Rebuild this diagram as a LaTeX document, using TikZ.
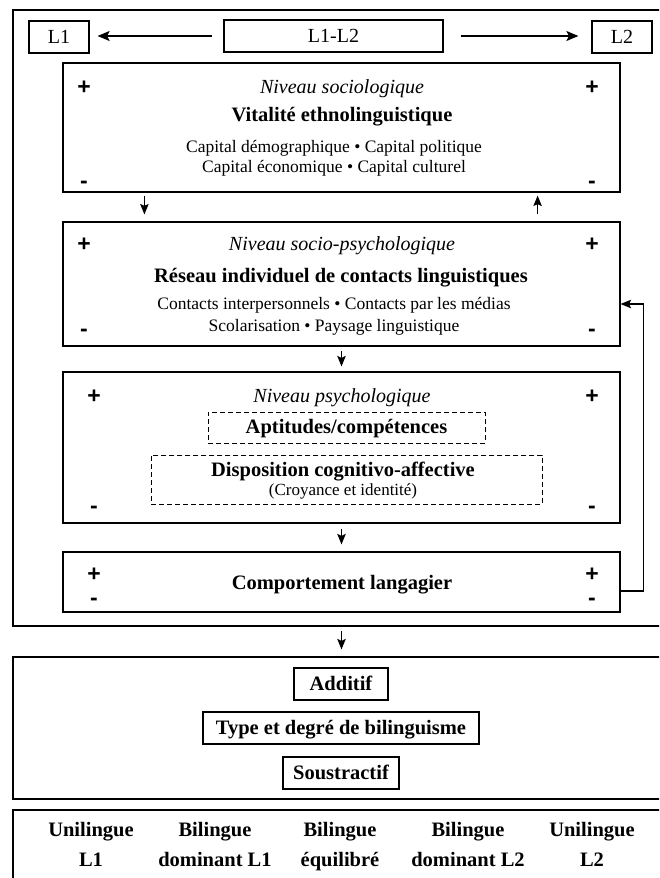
\documentclass[tikz,border=0pt]{standalone}
\usepackage{fontspec}
\setmainfont{Liberation Serif}
\newfontfamily\signfont{Liberation Sans}
\usetikzlibrary{arrows.meta}
\begin{document}
\begin{tikzpicture}[x=1pt,y=-1pt,
  frame/.style={draw, line width=1.2pt, inner sep=0pt},
  dbox/.style={draw, line width=1pt, dash pattern=on 5pt off 3pt, inner sep=0pt},
  bld/.style={inner sep=0pt, text height=14pt, text depth=2pt, font=\fontsize{20.5}{24}\selectfont\bfseries},
  itl/.style={inner sep=0pt, text height=14pt, text depth=2pt, font=\fontsize{20}{24}\selectfont\itshape},
  reg/.style={inner sep=0pt, text height=12pt, text depth=2pt, font=\fontsize{17.5}{21}\selectfont},
  sml/.style={inner sep=0pt, text height=12pt, text depth=2pt, font=\fontsize{17}{20}\selectfont},
  lbl/.style={inner sep=0pt, text height=14pt, text depth=2pt, font=\fontsize{20}{24}\selectfont},
  sign/.style={inner sep=0pt, anchor=base, font=\signfont\bfseries\fontsize{23}{24}\selectfont},
  arr/.style={line width=1.1pt, -{Stealth[length=10.5pt,width=8.5pt,inset=2pt]}},
  larr/.style={line width=1.1pt, -{Stealth[length=12pt,width=10pt,inset=2.5pt]}}
]
\clip (0,0) rectangle (659,878);

% outer containers (open on the right)
\node[frame, minimum width=667pt, minimum height=616pt] (outer1) at (346.5,318) {};
\node[frame, minimum width=667pt, minimum height=142pt] (outer2) at (346.5,728) {};
\node[frame, minimum width=667pt, minimum height=90pt]  (outer3) at (346.5,855) {};

% languages
\node[frame, minimum width=60pt,  minimum height=32pt] (l1)   at (59,37)    {};
\node[lbl] (l1t) at (59,37) {L1};
\node[frame, minimum width=219pt, minimum height=32pt] (l1l2) at (333.5,36) {};
\node[lbl] (l1l2t) at (333.5,36) {L1-L2};
\node[frame, minimum width=60pt,  minimum height=32pt] (l2)   at (622,37)   {};
\node[lbl] (l2t) at (622,37) {L2};
\draw[larr, shorten <=11pt, shorten >=8pt]  (l1l2.west) -- (l1.east |- l1l2.west);
\draw[larr, shorten <=17pt, shorten >=13pt] (l1l2.east) -- (l2.west |- l1l2.east);

% sociological level
\node[frame, minimum width=557pt, minimum height=129pt] (socio) at (341.5,127.5) {};
\node[itl] (socio1) at (342,87)  {Niveau sociologique};
\node[bld] (socio2) at (342,115) {Vitalité ethnolinguistique};
\node[reg] (socio3) at (334,147) {Capital démographique • Capital politique};
\node[reg] (socio4) at (334,167) {Capital économique • Capital culturel};
\node[sign] (sp1) at (84,94)  {+};
\node[sign] (sp2) at (592,94) {+};
\node[sign] (sm1) at (84,188) {-};
\node[sign] (sm2) at (592,188) {-};

% socio-psychological level
\node[frame, minimum width=557pt, minimum height=124pt] (spsy) at (341.5,284) {};
\node[itl] (spsy1) at (342,244) {Niveau socio-psychologique};
\node[bld] (spsy2) at (341,276) {Réseau individuel de contacts linguistiques};
\node[reg] (spsy3) at (334,304) {Contacts interpersonnels • Contacts par les médias};
\node[reg] (spsy4) at (334,326) {Scolarisation • Paysage linguistique};
\node[sign] (pp1) at (84,251)  {+};
\node[sign] (pp2) at (592,251) {+};
\node[sign] (pm1) at (84,336)  {-};
\node[sign] (pm2) at (592,336) {-};

% psychological level
\node[frame, minimum width=557pt, minimum height=151pt] (psy) at (341.5,447.5) {};
\node[itl] (psy1) at (342,396) {Niveau psychologique};
\node[dbox, minimum width=277pt, minimum height=31pt] (apt) at (346.5,427.5) {};
\node[bld] (apt1) at (346.5,427.5) {Aptitudes/compétences};
\node[dbox, minimum width=391pt, minimum height=49pt] (disp) at (346.5,479.5) {};
\node[bld] (disp1) at (343,470) {Disposition cognitivo-affective};
\node[sml] (disp2) at (343,490) {(Croyance et identité)};
\node[sign] (qp1) at (94,403)  {+};
\node[sign] (qp2) at (592,403) {+};
\node[sign] (qm1) at (94,513)  {-};
\node[sign] (qm2) at (592,513) {-};

% language behaviour
\node[frame, minimum width=557pt, minimum height=60pt] (comp) at (341.5,582) {};
\node[bld] (comp1) at (342,583) {Comportement langagier};
\node[sign] (cp1) at (94,581)  {+};
\node[sign] (cp2) at (592,581) {+};
\node[sign] (cm1) at (94,605)  {-};
\node[sign] (cm2) at (592,605) {-};

% flow between levels
\draw[arr, shorten <=3pt, shorten >=7pt] ([xshift=82pt]socio.south west) -- ([xshift=82pt]spsy.north west);
\draw[arr, shorten <=7pt, shorten >=3pt] ([xshift=-83pt]spsy.north east) -- ([xshift=-83pt]socio.south east);
\draw[arr, shorten <=4pt, shorten >=5pt] (spsy.south) -- (psy.north);
\draw[arr, shorten <=5pt, shorten >=7pt] (psy.south) -- (comp.north);
\draw[arr] ([yshift=-9pt]comp.east) -- ++(23,0) |- ([yshift=-20pt]spsy.east);
\draw[arr, shorten <=4pt, shorten >=7pt] (comp.south |- outer1.south) -- (comp.south |- outer2.north);

% type of bilingualism
\node[frame, minimum width=94pt,  minimum height=32pt] (add) at (341,684) {};
\node[bld] (add1) at (341,684) {Additif};
\node[frame, minimum width=276pt, minimum height=32pt] (type) at (341,728) {};
\node[bld] (type1) at (341,728) {Type et degré de bilinguisme};
\node[frame, minimum width=116pt, minimum height=32pt] (sous) at (341,773) {};
\node[bld] (sous1) at (341,773) {Soustractif};

% continuum
\node[bld] (k1a) at (91,830)  {Unilingue};
\node[bld] (k1b) at (91,860)  {L1};
\node[bld] (k2a) at (215,830) {Bilingue};
\node[bld] (k2b) at (215,860) {dominant L1};
\node[bld] (k3a) at (340,830) {Bilingue};
\node[bld] (k3b) at (340,860) {équilibré};
\node[bld] (k4a) at (468,830) {Bilingue};
\node[bld] (k4b) at (468,860) {dominant L2};
\node[bld] (k5a) at (592,830) {Unilingue};
\node[bld] (k5b) at (592,860) {L2};
\end{tikzpicture}
\end{document}
